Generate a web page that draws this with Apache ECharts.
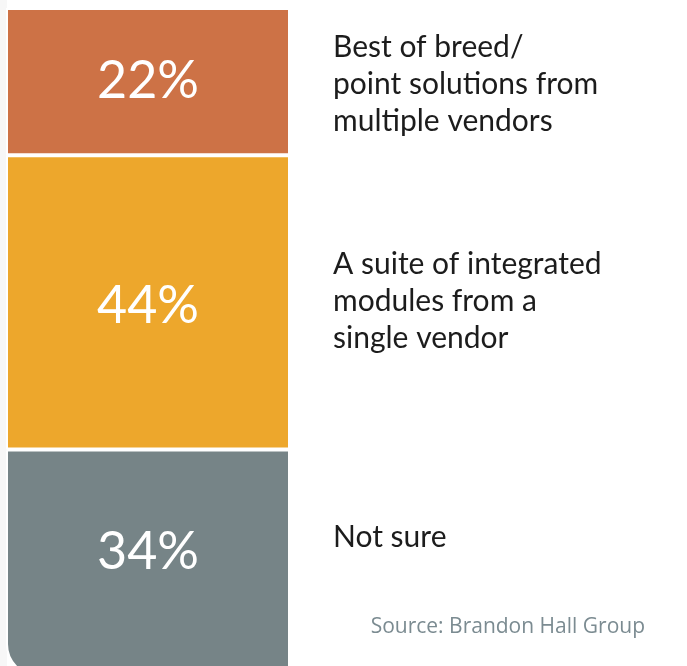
<!DOCTYPE html>
<html>
<head>
<meta charset="utf-8">
<script src="https://cdn.jsdelivr.net/npm/echarts@6/dist/echarts.min.js"></script>
<style>html,body{margin:0;padding:0;background:#fff;}#c{width:687px;height:666px;}</style>
</head>
<body>
<div id="c"></div>
<script>
const categories = ['Best of breed/\npoint solutions from\nmultiple vendors', 'A suite of integrated\nmodules from a\nsingle vendor', 'Not sure'];
const values = [22, 44, 34];
const colors = ['#CD7246', '#EDA72C', '#768487'];
const sourceText = 'Source: Brandon Hall Group';

const labelOffsets = [[0, 0], [0, 4], [0, -11]];
const textOffsets = [3, -1, -26];

const chart = echarts.init(document.getElementById('c'), null, {renderer: 'canvas'});
const order = [2, 1, 0];
const series = order.map((i) => ({
  type: 'bar',
  name: categories[i],
  stack: 'all',
  barWidth: '100%',
  data: [values[i]],
  itemStyle: {
    color: colors[i],
    borderColor: '#ffffff',
    borderWidth: 2,
    borderRadius: i === 2 ? [0, 0, 0, 32] : 0
  },
  label: {
    show: true,
    position: 'inside',
    offset: labelOffsets[i],
    formatter: values[i] + '%',
    color: '#ffffff',
    fontFamily: 'Lato',
    fontSize: 52,
    fontWeight: 'normal'
  },
  emphasis: {disabled: true},
  animation: false
}));

chart.setOption({
  animation: false,
  grid: {left: 6, top: 8, width: 284, height: 669, outerBoundsMode: 'none', containLabel: false},
  xAxis: {type: 'category', data: ['x'], show: false},
  yAxis: {type: 'value', min: 0, max: 100, show: false},
  series: series
});

let cum = 100;
const graphics = [{type: 'rect', shape: {x: 0, y: 0, width: 7, height: 666}, style: {fill: '#f7f7f7'}, z: -1}];
values.forEach((v, i) => {
  const mid = cum - v / 2;
  cum -= v;
  const y = chart.convertToPixel({gridIndex: 0}, [0, mid])[1];
  graphics.push({
    type: 'text',
    left: 333,
    top: y + textOffsets[i] - (categories[i].split('\n').length * 37) / 2,
    style: {
      text: categories[i],
      fill: '#1c1c1c',
      fontFamily: 'Lato',
      fontSize: 30,
      lineHeight: 37,
      textVerticalAlign: 'top'
    }
  });
});
graphics.push({
  type: 'text',
  right: 42,
  top: 617,
  style: {text: sourceText, fill: '#7b8b91', fontFamily: 'Open Sans', fontSize: 21}
});
chart.setOption({graphic: graphics});
</script>
</body>
</html>
